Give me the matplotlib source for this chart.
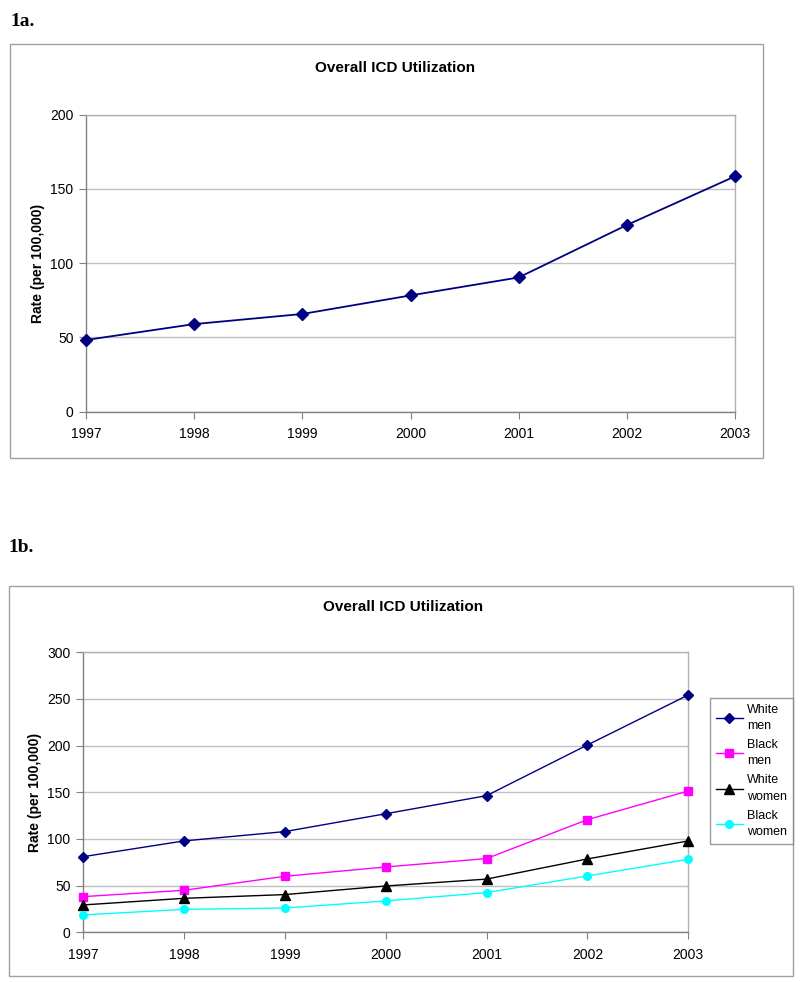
import matplotlib
matplotlib.use("Agg")
import matplotlib.pyplot as plt
from matplotlib.patches import Rectangle

years = [1997, 1998, 1999, 2000, 2001, 2002, 2003]
overall = [48.3, 59.0, 65.8, 78.3, 90.4, 125.7, 158.5]

white_men = [81.0, 97.9, 107.9, 127.0, 146.4, 200.7, 254.3]
black_men = [38.2, 45.0, 60.0, 70.0, 79.0, 120.7, 151.4]
white_women = [29.3, 36.4, 40.4, 49.6, 57.0, 78.6, 97.9]
black_women = [18.6, 24.6, 26.0, 33.6, 42.5, 60.4, 78.2]

series_labels = ["White\nmen", "Black\nmen", "White\nwomen", "Black\nwomen"]
chart_title = "Overall ICD Utilization"
ylabel = "Rate (per 100,000)"

plt.rcParams['font.family'] = ['Liberation Sans', 'DejaVu Sans']

W, H = 800, 982
fig = plt.figure(figsize=(W / 100, H / 100), dpi=100)

def ax_px(l, t, r, b):
    return fig.add_axes([l / W, 1 - b / H, (r - l) / W, (b - t) / H])

def box_px(l, t, r, b):
    fig.patches.append(Rectangle((l / W, 1 - b / H), (r - l) / W, (b - t) / H,
                                 transform=fig.transFigure, fill=False,
                                 edgecolor='#a0a0a0', linewidth=1.0))

def style(ax, ymax):
    ax.set_xlim(years[0], years[-1])
    ax.set_ylim(0, ymax)
    ax.set_xticks(years)
    ax.set_xticklabels([str(y) for y in years])
    ax.set_yticks(range(0, ymax + 1, 50))
    ax.grid(axis='y', color='#c0c0c0', linewidth=1.0)
    ax.set_axisbelow(True)
    for s in ['top', 'right']:
        ax.spines[s].set_color('#b0b0b0')
        ax.spines[s].set_linewidth(1.0)
    for s in ['left', 'bottom']:
        ax.spines[s].set_color('#808080')
        ax.spines[s].set_linewidth(1.0)
    ax.tick_params(axis='both', direction='out', length=5, color='#808080',
                   labelsize=10, pad=4)
    ax.tick_params(axis='x', pad=6)
    ax.set_ylabel(ylabel, fontsize=10, fontweight='bold', labelpad=4)

# ---------- 1a ----------
fig.text(10 / W, 1 - 22 / H, "1a.", fontsize=14, fontweight='bold',
         family=['Liberation Serif', 'DejaVu Serif'], va='center', ha='left')
box_px(10, 44, 763, 458)
ax1 = ax_px(86, 114.7, 735, 411.7)
style(ax1, 200)
ax1.plot(years, overall, color='#000080', marker='D', markersize=6,
         linewidth=1.3, clip_on=False, zorder=3)
fig.text(395 / W, 1 - 68 / H, chart_title, fontsize=11, fontweight='bold',
         ha='center', va='center')

# ---------- 1b ----------
fig.text(8 / W, 1 - 548 / H, "1b.", fontsize=14, fontweight='bold',
         family=['Liberation Serif', 'DejaVu Serif'], va='center', ha='left')
box_px(9, 586, 793, 976)
ax2 = ax_px(83, 652.3, 688.3, 932.3)
style(ax2, 300)
h1, = ax2.plot(years, white_men, color='#000080', marker='D', markersize=5,
               linewidth=1.0, clip_on=False, zorder=3)
h2, = ax2.plot(years, black_men, color='#ff00ff', marker='s', markersize=6,
               linewidth=1.0, clip_on=False, zorder=3)
h3, = ax2.plot(years, white_women, color='#000000', marker='^', markersize=6.5,
               linewidth=1.0, clip_on=False, zorder=3)
h4, = ax2.plot(years, black_women, color='#00ffff', marker='o', markersize=5.5,
               linewidth=1.0, clip_on=False, zorder=3)
fig.text(403 / W, 1 - 607 / H, chart_title, fontsize=11, fontweight='bold',
         ha='center', va='center')

leg = fig.legend([h1, h2, h3, h4], series_labels,
                 loc='upper left', bbox_to_anchor=(710 / W, 1 - 698 / H),
                 fontsize=9, frameon=True, fancybox=False, borderaxespad=0,
                 handlelength=2.2, handletextpad=0.3, labelspacing=0.55,
                 borderpad=0.45)
leg.get_frame().set_edgecolor('#808080')
leg.get_frame().set_linewidth(1.0)
for t in leg.get_texts():
    t.set_linespacing(1.5)

fig.savefig("out.png", dpi=100)
